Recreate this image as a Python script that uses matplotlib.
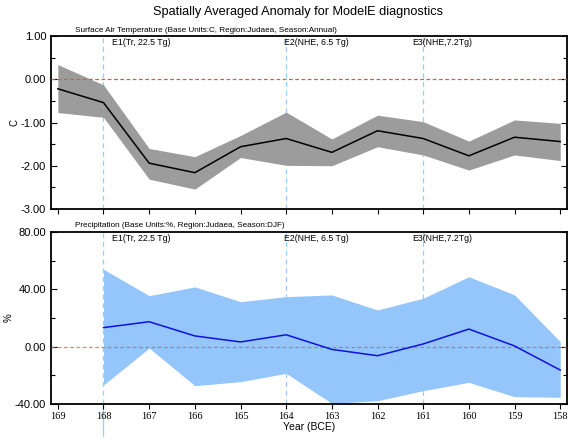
import matplotlib
matplotlib.use("Agg")
import matplotlib.pyplot as plt
import matplotlib.transforms as mtransforms

plt.rcParams['font.family'] = ['Liberation Sans', 'DejaVu Sans']
plt.rcParams['axes.unicode_minus'] = False

years = [169, 168, 167, 166, 165, 164, 163, 162, 161, 160, 159, 158]

# surface air temperature anomaly (C)
tas_mean = [-0.22, -0.54, -1.94, -2.16, -1.56, -1.37, -1.69, -1.19, -1.37, -1.77, -1.34, -1.44]
tas_hi = [0.34, -0.13, -1.60, -1.79, -1.30, -0.76, -1.38, -0.83, -0.98, -1.43, -0.94, -1.02]
tas_lo = [-0.77, -0.88, -2.31, -2.54, -1.81, -1.99, -2.00, -1.56, -1.75, -2.10, -1.75, -1.88]

# precipitation anomaly (%), no value for 169
pr_years = years[1:]
pr_mean = [13.3, 17.4, 7.5, 3.3, 8.3, -1.9, -6.3, 1.9, 12.3, 0.5, -16.3]
pr_hi = [54.0, 35.6, 41.7, 31.4, 34.9, 36.1, 25.6, 33.8, 48.8, 36.1, 3.5]
pr_lo = [-26.7, -1.0, -27.2, -24.4, -18.6, -39.6, -37.7, -30.7, -24.9, -34.9, -35.3]

events = [168, 164, 161]
event_labels = ['E1(Tr, 22.5 Tg)', 'E2(NHE, 6.5 Tg)', 'E3(NHE,7.2Tg)']
event_text_x = [167.82, 164.04, 161.24]

fig = plt.figure(figsize=(5.76, 4.43), dpi=100)
ax1 = fig.add_axes([0.0885, 0.5282, 0.896, 0.3905])
ax2 = fig.add_axes([0.0885, 0.0880, 0.896, 0.3883])

vcol = '#99ccff'
zcol = '#a8705a'


def style_axes(ax, yticks, yminor, ylim, ylabel, show_xlabels):
    ax.set_xlim(169.15, 157.85)
    ax.set_ylim(*ylim)
    ax.set_yticks(yticks)
    ax.set_yticks(yminor, minor=True)
    ax.set_yticklabels(['%.2f' % v for v in yticks], fontsize=8)
    ax.set_xticks(years)
    if show_xlabels:
        ax.set_xticklabels([str(y) for y in years], fontsize=7.5, family='Liberation Serif')
    else:
        ax.set_xticklabels([])
    ax.tick_params(axis='y', which='both', direction='in', right=True, width=0.8)
    ax.tick_params(axis='y', which='major', length=4)
    ax.tick_params(axis='y', which='minor', length=3)
    ax.tick_params(axis='x', direction='out', length=3.5, width=0.8, pad=2)
    for s in ax.spines.values():
        s.set_linewidth(1.3)
    ax.set_ylabel(ylabel, fontsize=7, labelpad=1)


# top panel
for x in events:
    ax1.axvline(x, color=vcol, lw=0.9, ls=(0, (4, 3)), zorder=1)
ax1.axhline(0, color=zcol, lw=0.9, ls=(0, (3, 2)), zorder=3)
ax1.fill_between(years, tas_lo, tas_hi, color='#9c9c9c', lw=0, zorder=2)
ax1.plot(years, tas_mean, color='black', lw=1.1, zorder=4)
style_axes(ax1, [1, 0, -1, -2, -3], [0.5, -0.5, -1.5, -2.5], (-3, 1), 'C', False)

# bottom panel
for x in events:
    ax2.axvline(x, color=vcol, lw=0.9, ls=(0, (4, 3)), zorder=1)
ax2.plot([168, 168], [-40, -62], color=vcol, lw=0.9, clip_on=False, zorder=1)
ax2.fill_between(pr_years, pr_lo, pr_hi, color='#95c6fb', lw=0, zorder=2)
ax2.axhline(0, color=zcol, lw=0.9, ls=(0, (3, 2)), alpha=0.75, zorder=3)
ax2.plot(pr_years, pr_mean, color='#1010e0', lw=1.1, zorder=4)
style_axes(ax2, [80, 40, 0, -40], [60, 20, -20], (-40, 80), '%', True)
ax2.set_xlabel('Year (BCE)', fontsize=7.5, labelpad=1)

for ax, yf in [(ax1, 0.96), (ax2, 0.963)]:
    trans = mtransforms.blended_transform_factory(ax.transData, ax.transAxes)
    for tx, lab in zip(event_text_x, event_labels):
        ax.text(tx, yf, lab, transform=trans, fontsize=6.3, ha='left', va='center', zorder=5)

fig.text(0.518, 0.973, 'Spatially Averaged Anomaly for ModelE diagnostics', fontsize=9.2,
         ha='center', va='center')
fig.text(0.130, 0.932, 'Surface Air Temperature (Base Units:C, Region:Judaea, Season:Annual)',
         fontsize=5.85, ha='left', va='center')
fig.text(0.130, 0.492, 'Precipitation (Base Units:%, Region:Judaea, Season:DJF)',
         fontsize=5.85, ha='left', va='center')

fig.savefig('out.png', dpi=100)
